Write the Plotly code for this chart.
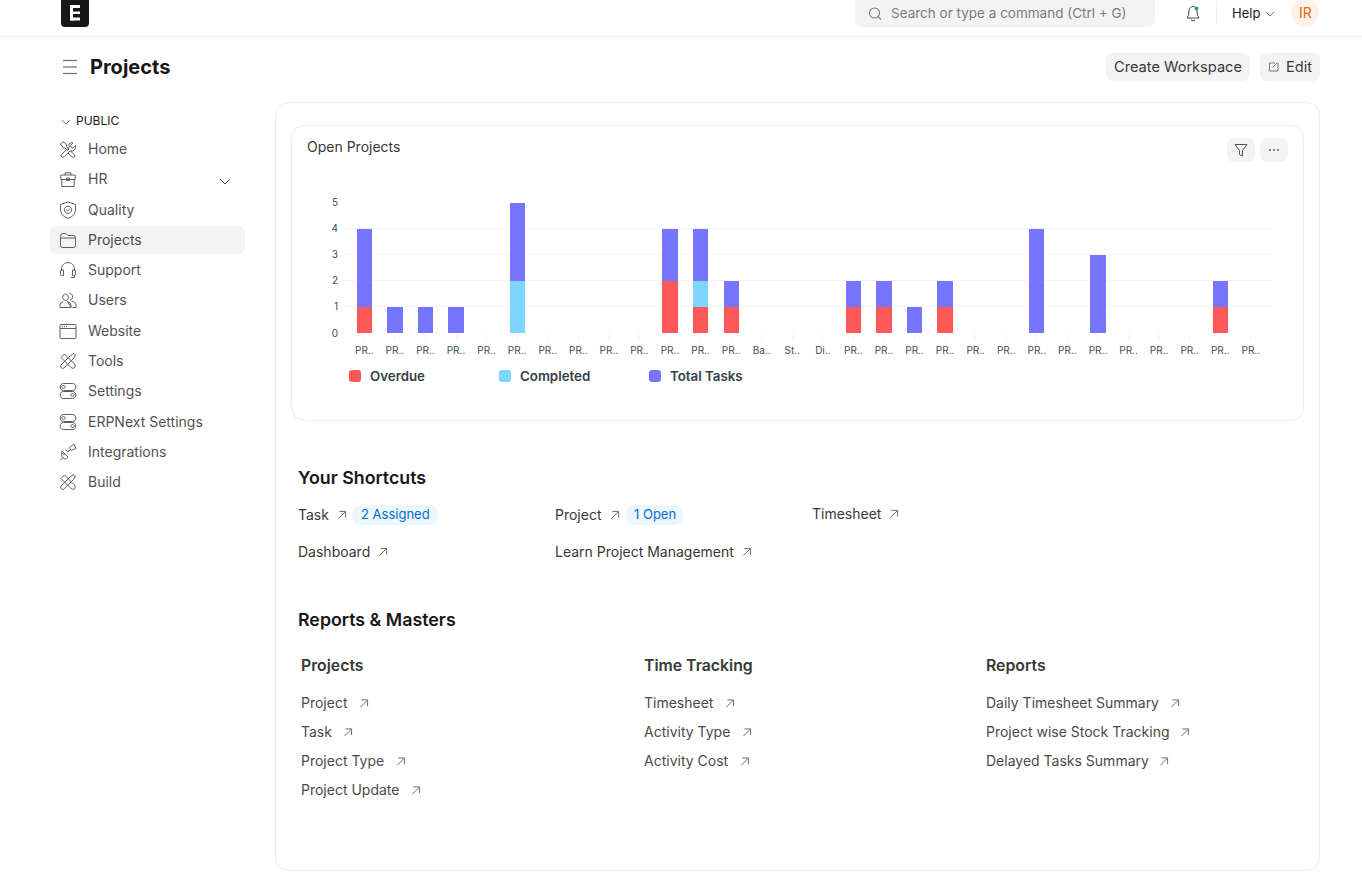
import re
import plotly.graph_objects as go

# ---------- chart data ----------
project_labels = ["PR.."] * 13 + ["Ba..", "St..", "Di.."] + ["PR.."] * 14
overdue =   [1,0,0,0,0,0,0,0,0,0,2,1,1,0,0,0,1,1,0,1,0,0,0,0,0,0,0,0,1,0]
completed = [0,0,0,0,0,2,0,0,0,0,0,1,0,0,0,0,0,0,0,0,0,0,0,0,0,0,0,0,0,0]
total_tasks=[3,1,1,1,0,3,0,0,0,0,2,2,1,0,0,0,1,1,1,1,0,0,4,0,3,0,0,0,1,0]
y_ticks = [0, 1, 2, 3, 4, 5]
series_names = ["Overdue", "Completed", "Total Tasks"]
series_colors = ["#ff5858", "#7cd6fd", "#7575ff"]

# ---------- page text ----------
sidebar_items = ["Home", "HR", "Quality", "Projects", "Support", "Users", "Website",
                 "Tools", "Settings", "ERPNext Settings", "Integrations", "Build"]
sidebar_icons = ["home", "case", "shield", "folder", "headset", "users", "web",
                 "tools", "toggle", "toggle", "plug", "tools"]
sidebar_rows = [149, 179, 210, 240, 270, 300, 331, 361, 391, 422, 452, 482]

W, H = 1362, 885
FONT = "Inter"
shapes, notes = [], []


def text(x, y, s, size=14, color="#4a4a4a", weight=400, anchor="left", font=FONT):
    notes.append(dict(x=x, y=y - 0.8, xref="x2", yref="y2", text=s, showarrow=False,
                      xanchor=anchor, yanchor="middle", borderpad=0, borderwidth=0,
                      font=dict(family=font, size=size, color=color, weight=weight)))


def rr(x0, y0, x1, y1, r):
    return (f"M{x0+r} {y0} L{x1-r} {y0} Q{x1} {y0} {x1} {y0+r} L{x1} {y1-r} Q{x1} {y1} {x1-r} {y1} "
            f"L{x0+r} {y1} Q{x0} {y1} {x0} {y1-r} L{x0} {y0+r} Q{x0} {y0} {x0+r} {y0} Z")


def path(d, fill=None, line=None, width=1.0):
    shapes.append(dict(type="path", path=d, xref="x2", yref="y2", layer="above",
                       fillcolor=fill or "rgba(0,0,0,0)",
                       line=dict(color=line or "rgba(0,0,0,0)", width=width if line else 0)))


def box(x0, y0, x1, y1, r, fill=None, line=None, width=1.0):
    path(rr(x0, y0, x1, y1, r), fill, line, width)


def circle(cx, cy, r, fill=None, line=None, width=1.0):
    shapes.append(dict(type="circle", x0=cx-r, x1=cx+r, y0=cy-r, y1=cy+r, xref="x2", yref="y2",
                       layer="above", fillcolor=fill or "rgba(0,0,0,0)",
                       line=dict(color=line or "rgba(0,0,0,0)", width=width if line else 0)))


def shift(d, dx, dy, k=1.0):
    toks = re.findall(r"[A-Za-z]|-?\d+\.?\d*", d)
    out, isx = [], True
    for t in toks:
        if t.isalpha():
            out.append(t); isx = True
        else:
            v = float(t) * k + (dx if isx else dy)
            out.append(f"{v:.2f}"); isx = not isx
    return " ".join(out)


ICONS = {
    "home": ["M1.5 4 L4 1.5 L7.5 4.5 L7.5 6.5 L10 9 L8.5 10.5 L6 8 L4.5 8 Z",
             "M10.5 7 L2.5 14.5 Q1.5 16 3 17 Q4.5 17.5 5.5 16.5 L11 11 Q14 11.5 15.8 9.5 Q17 7.5 16.5 5.5 L14 8 L12 7.5 L11.5 5.5 L14 3 Q11.5 2 10 4 Q9.5 5.5 10.5 7",
             "M11.5 11 L15.5 15 Q16.5 16.5 15.5 17 Q14 17.8 13 16.8 L9 13"],
    "case": ["M1.8 5 L16.2 5 L16.2 9.5 L1.8 9.5 Z", "M2.8 9.5 L2.8 16.5 L15.2 16.5 L15.2 9.5",
             "M6 5 L6 2.8 L12 2.8 L12 5", "M7.5 8 L10.5 8 L10.5 10.5 L7.5 10.5 Z"],
    "shield": ["M9 1 L16.5 3.5 L16.5 9 Q16.5 14.5 9 17.5 Q1.5 14.5 1.5 9 L1.5 3.5 Z",
               "M9 5.2 C13.8 5.2 13.8 12.4 9 12.4 C4.2 12.4 4.2 5.2 9 5.2 Z", "M7.3 8.9 L8.6 10.1 L10.8 7.6"],
    "folder": ["M1.5 6 Q1.5 2.5 4 2.5 L7 2.5 L9 4.5 L14.5 4.5 Q16.5 4.5 16.5 6.5 L16.5 14.5 Q16.5 16.5 14.5 16.5 L3.5 16.5 Q1.5 16.5 1.5 14.5 Z",
               "M1.5 7 L16.5 7"],
    "headset": ["M2.5 10 L2.5 8 C2.5 -0.5 15.5 -0.5 15.5 8 L15.5 10",
                "M1.5 10 Q1.5 9 2.5 9 L4.5 9 L4.5 14.5 L2.5 14.5 Q1.5 14.5 1.5 13.5 Z",
                "M16.5 10 Q16.5 9 15.5 9 L13.5 9 L13.5 14.5 L15.5 14.5 Q16.5 14.5 16.5 13.5 Z",
                "M15.5 14.5 L15.5 16.5 L12 16.5"],
    "users": ["M6.5 3 C10.2 3 10.2 9.5 6.5 9.5 C2.8 9.5 2.8 3 6.5 3 Z",
              "M1 16.5 L1 14 Q1 11.5 4.5 10.5 M8.5 10.5 Q12 11.5 12 14 L12 16.5 Z M1 16.5 L12 16.5",
              "M10.5 2.5 C14.5 2 14.5 8.5 11 9 M12.5 10 Q17 11 17 14 L17 16.5 L13.5 16.5"],
    "web": ["M2 2.5 L16 2.5 Q17 2.5 17 3.5 L17 15.5 Q17 16.5 16 16.5 L2 16.5 Q1 16.5 1 15.5 L1 3.5 Q1 2.5 2 2.5 Z",
            "M1 6.5 L17 6.5", "M3 4.5 L4 4.5 M5 4.5 L6 4.5 M7 4.5 L8 4.5"],
    "tools": ["M2 5.5 L5.5 2 L15.5 12 Q17 14.5 15.5 15.8 Q14 17 12 15.5 Z",
              "M2 13 L11.5 3.5 L15 1.5 L16.5 3 L14.5 6.5 L5 16 Q3.5 17 2.5 16 Q1.2 14.8 2 13 Z"],
    "toggle": ["M4.5 1.5 L13.5 1.5 C18 1.5 18 8.5 13.5 8.5 L4.5 8.5 C0 8.5 0 1.5 4.5 1.5 Z",
               "M4.5 9.5 L13.5 9.5 C18 9.5 18 16.5 13.5 16.5 L4.5 16.5 C0 16.5 0 9.5 4.5 9.5 Z",
               "M4.5 3.5 C6.8 3.5 6.8 6.5 4.5 6.5 C2.2 6.5 2.2 3.5 4.5 3.5 Z",
               "M13.5 11.5 C15.8 11.5 15.8 14.5 13.5 14.5 C11.2 14.5 11.2 11.5 13.5 11.5 Z"],
    "plug": ["M3 8 L9 14 L7.5 15.5 Q5.5 16.5 4 15 Q2.5 13.5 2.8 11 Z", "M3.5 15 L1 17.5",
             "M8.5 8.5 L6.5 6.5 M5.5 12 L3.5 10",
             "M10.5 4.5 L15 1 L17 5.5 L12 7.5 Z", "M11 7 L8.5 9"],
}


def icon(name, cx, cy, color="#5f5f5f", width=1.0):
    for d in ICONS[name]:
        path(shift(d, cx - 9, cy - 9), None, color, width)


def arrow(cx, cy):
    path(f"M{cx-3.6} {cy+3.6} L{cx+3.4} {cy-3.4} M{cx-2.6} {cy-3.6} L{cx+3.6} {cy-3.6} L{cx+3.6} {cy+2.6}",
         None, "#6e6e6e", 1.0)


# ---------- header ----------
path(f"M0 36.5 L{W} 36.5", None, "#ededed", 1)
box(61, -3, 89, 27, 4, fill="#171717")
box(70, 5, 80, 8, 0.5, fill="#ffffff")
box(72, 11.5, 80, 14, 0.3, fill="#ffffff")
box(70, 17.5, 80, 20.5, 0.5, fill="#ffffff")
box(70, 5, 73, 20.5, 0.2, fill="#ffffff")
box(855, -4, 1155, 27, 8, fill="#f3f3f3")
circle(874.5, 13, 5, line="#7c7c7c", width=1.1)
path("M878 16.5 L881 19.5", None, "#7c7c7c", 1.1)
text(891, 13.5, "Search or type a command (Ctrl + G)", 13.5, "#7c7c7c")
path("M1187 18 Q1189 16 1189 11 C1189 5 1197 5 1197 11 Q1197 16 1199 18 Z M1191 20 Q1193 22 1195 20",
     None, "#4a4a4a", 1.0)
circle(1196.5, 8.5, 2, fill="#30a66d")
path("M1216.5 1 L1216.5 25", None, "#ededed", 1)
text(1232, 14, "Help", 13, "#171717")
path("M1266 12 L1270 16 L1274 12", None, "#6e6e6e", 1)
circle(1305, 13, 14, fill="#fff1e7")
text(1305, 13.5, "IR", 14, "#e86c13", anchor="center")

# ---------- title row ----------
for yy in (60.5, 67, 73.5):
    path(f"M63 {yy} L77 {yy}", None, "#6e6e6e", 1.2)
text(90, 67.5, "Projects", 20, "#171717", 700)
box(1106, 53, 1250, 81, 8, fill="#f3f3f3")
text(1178, 67.5, "Create Workspace", 14.6, "#383838", anchor="center")
box(1260, 53, 1320, 81, 8, fill="#f3f3f3")
path("M1278 63 L1278 71 L1269.5 71 L1269.5 63 L1275 63 M1272.5 67.5 L1277.5 62.5", None, "#6e6e6e", 0.9)
text(1286, 67.5, "Edit", 14.6, "#383838")

# ---------- sidebar ----------
box(50, 226, 245, 254, 8, fill="#f3f3f3")
path("M62 120 L66 124 L70 120", None, "#6e6e6e", 0.9)
text(75.5, 121, "PUBLIC", 12, "#171717")
for label, ic, yy in zip(sidebar_items, sidebar_icons, sidebar_rows):
    icon(ic, 68, yy)
    text(88, yy, label, 14, "#525252" if label != "Projects" else "#4a4a4a")
path("M220 179 L225 184 L230 179", None, "#4a4a4a", 1)

# ---------- cards ----------
box(275.5, 102.5, 1319.5, 870.5, 14, line="#ededed")
box(291.5, 125.5, 1303.5, 420.5, 14, line="#ededed")
text(307, 147.5, "Open Projects", 14, "#383838")
box(1227, 138, 1255, 162, 8, fill="#f3f3f3")
path("M1235 144.5 L1247 144.5 L1242.5 150.5 L1242.5 156 L1239.5 154.5 L1239.5 150.5 Z", None, "#525252", 1)
box(1260, 138, 1288, 162, 8, fill="#f3f3f3")
for xx in (1270, 1274, 1278):
    circle(xx, 150, 0.9, fill="#4a4a4a")

# ---------- chart legend (Frappe style) ----------
for name, color, sx, tx in zip(series_names, series_colors, (349, 499, 649), (370, 520, 670)):
    box(sx, 370, sx + 12, 382, 3, fill=color)
    text(tx, 376.5, name, 13.3, "#36414c", 600)

# ---------- shortcuts ----------
text(298, 478, "Your Shortcuts", 17.8, "#171717", 600)
text(298, 515, "Task", 14, "#383838"); arrow(342, 515)
box(352, 505, 438, 525, 10, fill="#edf6fd")
text(395, 515, "2 Assigned", 13, "#0070cc", anchor="center")
text(555, 515, "Project", 14, "#383838"); arrow(615, 515)
box(626, 505, 683, 525, 10, fill="#edf6fd")
text(654.5, 515, "1 Open", 13, "#0070cc", anchor="center")
text(812, 514, "Timesheet", 14, "#383838"); arrow(894, 514)
text(298, 552, "Dashboard", 14, "#383838"); arrow(383, 552)
text(555, 552, "Learn Project Management", 14, "#383838"); arrow(747, 552)

# ---------- reports ----------
text(298, 620, "Reports & Masters", 17.8, "#171717", 600)
columns = [
    (301, "Projects", [("Project", 364), ("Task", 348), ("Project Type", 401), ("Project Update", 416)]),
    (644, "Time Tracking", [("Timesheet", 730), ("Activity Type", 747), ("Activity Cost", 745)]),
    (986, "Reports", [("Daily Timesheet Summary", 1175), ("Project wise Stock Tracking", 1185),
                      ("Delayed Tasks Summary", 1164)]),
]
for cx, head, items in columns:
    text(cx, 666, head, 15.8, "#383838", 600)
    for (lab, ax), yy in zip(items, (703.5, 732.5, 761.5, 790.5)):
        text(cx, yy, lab, 14, "#4a4a4a")
        arrow(ax, yy)

# ---------- figure ----------
fig = go.Figure()
xs = list(range(len(project_labels)))
for name, vals, color in zip(series_names, (overdue, completed, total_tasks), series_colors):
    fig.add_trace(go.Bar(x=xs, y=vals, name=name, marker=dict(color=color, line=dict(width=0)),
                         showlegend=False, hoverinfo="skip"))
# invisible carrier for the page-pixel overlay axes
fig.add_trace(go.Scatter(x=[0], y=[0], xaxis="x2", yaxis="y2", mode="none",
                         showlegend=False, hoverinfo="skip"))

pitch = 30.57
left, right = 343, 1272
first = 364.3
fig.update_layout(
    width=W, height=H, margin=dict(l=0, r=0, t=0, b=0, pad=0, autoexpand=False),
    paper_bgcolor="#ffffff", plot_bgcolor="rgba(0,0,0,0)",
    barmode="stack", bargap=0.5, showlegend=False,
    xaxis=dict(domain=[left / W, right / W], range=[(left - first) / pitch, (right - first) / pitch],
               anchor="y", tickmode="array", tickvals=xs, ticktext=project_labels,
               ticks="outside", ticklen=5, tickwidth=1, tickcolor="#f0f1f2", tickangle=0,
               ticklabelstandoff=3, showgrid=False, zeroline=False, showline=False,
               tickfont=dict(family=FONT, size=10, color="#414b54")),
    yaxis=dict(domain=[1 - 333 / H, 1 - 202.7 / H], range=[0, 5], anchor="x",
               tickmode="array", tickvals=y_ticks, ticks="", ticklabelstandoff=4,
               gridcolor="#f4f5f6", gridwidth=1.4, zeroline=False, showline=False,
               tickfont=dict(family=FONT, size=10, color="#414b54")),
    xaxis2=dict(domain=[0, 1], range=[0, W], visible=False, anchor="y2", fixedrange=True),
    yaxis2=dict(domain=[0, 1], range=[H, 0], visible=False, anchor="x2", fixedrange=True),
    shapes=shapes, annotations=notes,
)
fig.write_html("out.html", config={"displayModeBar": False},
               post_script="document.body.style.margin='0';document.body.style.overflow='hidden';")
